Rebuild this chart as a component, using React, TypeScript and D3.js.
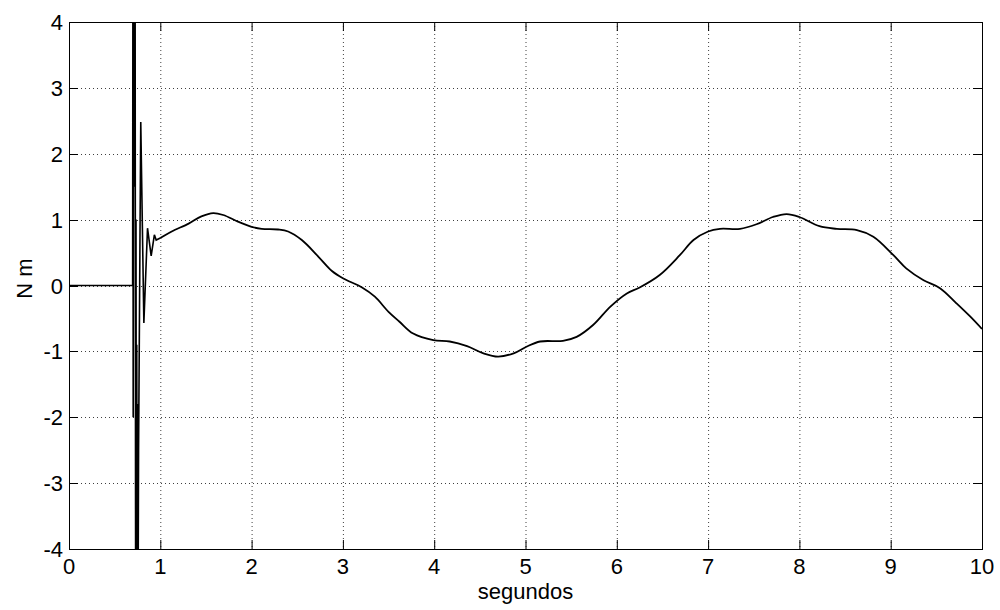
import React from "react";
import * as d3 from "d3";

const xTicks = [0, 1, 2, 3, 4, 5, 6, 7, 8, 9, 10];
const yTicks = [-4, -3, -2, -1, 0, 1, 2, 3, 4];

// transient (start-up) part, seconds / N m
const transientT = [0, 0.697, 0.7, 0.703, 0.708, 0.712, 0.716, 0.72, 0.724, 0.73, 0.734, 0.738, 0.742, 0.747, 0.751, 0.756, 0.762, 0.786, 0.82, 0.86, 0.9, 0.935, 0.955, 1.0];
const transientV = [0, 0, 5, -2.0, 5, 2.0, 5, 1.5, 5, -5, 1.0, -5, -0.9, -5, -1.8, -5, -2.5, 2.48, -0.57, 0.87, 0.45, 0.77, 0.69, 0.72];

// steady part
const steadyT = [1.0, 1.125, 1.31, 1.45, 1.58, 1.69, 1.85, 2.0, 2.11, 2.29, 2.4, 2.55, 2.73, 2.88, 3.0, 3.21, 3.35, 3.5, 3.62, 3.77, 3.99, 4.17, 4.36, 4.54, 4.7, 4.87, 5.01, 5.16, 5.41, 5.56, 5.74, 5.93, 6.11, 6.25, 6.47, 6.69, 6.84, 7.0, 7.13, 7.35, 7.53, 7.71, 7.86, 8.0, 8.22, 8.41, 8.63, 8.81, 9.03, 9.17, 9.36, 9.54, 9.72, 9.87, 10.0];
const steadyV = [0.72, 0.82, 0.94, 1.05, 1.1, 1.07, 0.97, 0.89, 0.86, 0.85, 0.82, 0.69, 0.44, 0.22, 0.11, -0.03, -0.17, -0.4, -0.55, -0.73, -0.83, -0.85, -0.92, -1.03, -1.08, -1.03, -0.93, -0.85, -0.84, -0.78, -0.6, -0.32, -0.12, -0.03, 0.16, 0.46, 0.69, 0.82, 0.86, 0.86, 0.93, 1.04, 1.085, 1.04, 0.9, 0.86, 0.84, 0.74, 0.46, 0.26, 0.08, -0.04, -0.27, -0.47, -0.66];

const xLabel = "segundos";
const yLabel = "N m";

const W = 1000, H = 610;
const L = 69, R = 982, T = 22, B = 549;
const FONT = "'Liberation Sans', Arial, Helvetica, sans-serif";

export default function App() {
  const x = d3.scaleLinear().domain([0, 10]).range([L, R]);
  const y = d3.scaleLinear().domain([-4, 4]).range([B, T]);
  const tr = transientT.map((t, i) => [t, transientV[i]] as [number, number]);
  const st = steadyT.map((t, i) => [t, steadyV[i]] as [number, number]);
  const lineLin = d3.line<[number, number]>().x(d => x(d[0])).y(d => y(d[1]));
  const lineSmooth = d3.line<[number, number]>().x(d => x(d[0])).y(d => y(d[1])).curve(d3.curveCatmullRom.alpha(0.5));
  const tick = 9;
  return (
    <svg width={W} height={H} style={{ position: "absolute", left: 0, top: 0, background: "#fff" }} fontFamily={FONT}>
      <rect x={0} y={0} width={W} height={H} fill="#fff" />
      <defs>
        <clipPath id="plotclip">
          <rect x={L} y={T} width={R - L} height={B - T} />
        </clipPath>
      </defs>
      {/* grid */}
      {xTicks.slice(1, -1).map(t => (
        <line key={"gx" + t} x1={x(t) + 0.5} x2={x(t) + 0.5} y1={T} y2={B} stroke="#000" strokeWidth={1} strokeDasharray="1,3" opacity={0.75} />
      ))}
      {yTicks.slice(1, -1).map(t => (
        <line key={"gy" + t} x1={L} x2={R} y1={Math.round(y(t)) + 0.5} y2={Math.round(y(t)) + 0.5} stroke="#000" strokeWidth={1} strokeDasharray="1,3" opacity={0.75} />
      ))}
      {/* ticks */}
      {xTicks.map(t => (
        <g key={"tx" + t}>
          <line x1={x(t) + 0.5} x2={x(t) + 0.5} y1={B} y2={B - tick} stroke="#000" />
          <line x1={x(t) + 0.5} x2={x(t) + 0.5} y1={T} y2={T + tick} stroke="#000" />
        </g>
      ))}
      {yTicks.map(t => (
        <g key={"ty" + t}>
          <line x1={L} x2={L + tick} y1={Math.round(y(t)) + 0.5} y2={Math.round(y(t)) + 0.5} stroke="#000" />
          <line x1={R} x2={R - tick} y1={Math.round(y(t)) + 0.5} y2={Math.round(y(t)) + 0.5} stroke="#000" />
        </g>
      ))}
      {/* data */}
      <g clipPath="url(#plotclip)">
        <path d={lineLin(tr) || ""} fill="none" stroke="#000" strokeWidth={1.6} strokeLinejoin="miter" strokeMiterlimit={2} />
        <path d={lineSmooth(st) || ""} fill="none" stroke="#000" strokeWidth={1.8} />
      </g>
      {/* box */}
      <rect x={L + 0.5} y={T + 0.5} width={R - L} height={B - T} fill="none" stroke="#000" strokeWidth={1} />
      {/* tick labels */}
      {xTicks.map(t => (
        <text key={"lx" + t} x={x(t)} y={574} textAnchor="middle" fontSize={22} fill="#000">{t}</text>
      ))}
      {yTicks.map(t => (
        <text key={"ly" + t} x={63} y={y(t) + 8} textAnchor="end" fontSize={22} fill="#000">{t}</text>
      ))}
      <text x={(L + R) / 2} y={599} textAnchor="middle" fontSize={22} fill="#000">{xLabel}</text>
      <text transform={`translate(32, ${(T + B) / 2 - 7}) rotate(-90)`} textAnchor="middle" fontSize={22} fill="#000">{yLabel}</text>
    </svg>
  );
}
